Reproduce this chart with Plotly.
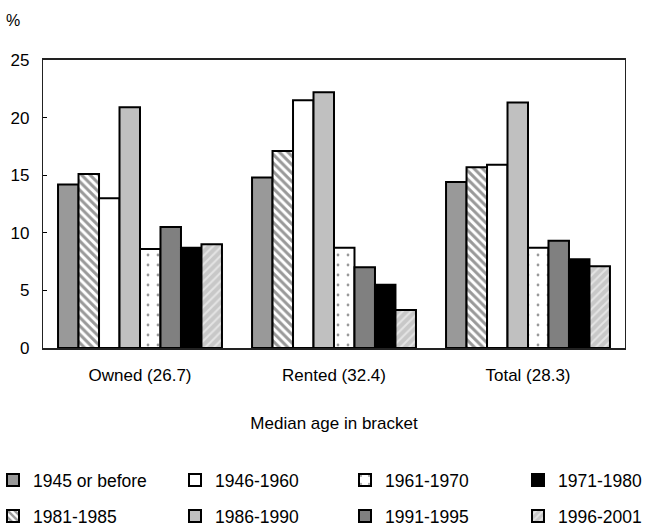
import plotly.graph_objects as go

categories = ["Owned (26.7)", "Rented (32.4)", "Total (28.3)"]

series_names = ["1945 or before", "1981-1985", "1946-1960", "1986-1990",
                "1961-1970", "1991-1995", "1971-1980", "1996-2001"]
v_1945 = [14.2, 14.8, 14.4]
v_1981 = [15.1, 17.1, 15.7]
v_1946 = [13.0, 21.5, 15.9]
v_1986 = [20.9, 22.2, 21.3]
v_1961 = [8.6, 8.7, 8.7]
v_1991 = [10.5, 7.0, 9.3]
v_1971 = [8.7, 5.5, 7.7]
v_1996 = [9.0, 3.3, 7.1]
values = [v_1945, v_1981, v_1946, v_1986, v_1961, v_1991, v_1971, v_1996]

styles = [
    dict(color="#999999"),
    dict(color="white", pattern=dict(shape="\\", fgcolor="#333333", bgcolor="white", size=6, solidity=0.5)),
    dict(color="white"),
    dict(color="#c0c0c0"),
    dict(color="white", pattern=dict(shape=".", fgcolor="#333333", bgcolor="white", size=10, solidity=0.06)),
    dict(color="#808080"),
    dict(color="black"),
    dict(color="#c8c8c8", pattern=dict(shape="/", fgcolor="white", bgcolor="#c8c8c8", size=6, solidity=0.35)),
]

# legend grid: (column, row) of each series (columns of 4, rows of 2)
legend_cells = [(0, 0), (0, 1), (1, 0), (1, 1), (2, 0), (2, 1), (3, 0), (3, 1)]
col_left_px = [-7, 175, 345, 518]
row_center_px = [480, 516]

font = "Liberation Sans, Arial, sans-serif"
L, T, PW, PH = 43, 60, 582, 288

fig = go.Figure()
legends = {}
for i, (name, vals, st, cell) in enumerate(zip(series_names, values, styles, legend_cells)):
    marker = dict(color=st["color"], line=dict(color="black", width=2))
    if "pattern" in st:
        marker["pattern"] = st["pattern"]
    key = "legend" if i == 0 else f"legend{i + 1}"
    fig.add_trace(go.Bar(x=categories, y=vals, name=name, marker=marker, legend=key))
    c, r = cell
    legends[key] = dict(
        x=(col_left_px[c] - L) / PW, y=-(row_center_px[r] - (T + PH)) / PH,
        xanchor="left", yanchor="middle", orientation="h",
        font=dict(size=17.5, family=font, color="black"),
        bgcolor="rgba(0,0,0,0)", itemwidth=30,
    )

fig.update_layout(
    width=645, height=529,
    margin=dict(l=L, r=645 - L - PW, t=T, b=529 - T - PH, autoexpand=False),
    paper_bgcolor="white", plot_bgcolor="white",
    font=dict(family=font, size=17, color="black"),
    barmode="group", bargap=0.155, bargroupgap=0,
    showlegend=True,
    xaxis=dict(showline=True, linecolor="#222222", linewidth=1.5, mirror=True,
               ticks="", tickfont=dict(size=17), ticklabelstandoff=11,
               title=dict(text="Median age in bracket", font=dict(size=17), standoff=33)),
    yaxis=dict(range=[0, 25], dtick=5, showgrid=False, zeroline=False,
               showline=True, linecolor="#222222", linewidth=1.2, mirror=True,
               ticks="inside", ticklen=4, tickcolor="black",
               tickfont=dict(size=17), ticklabelstandoff=9),
    annotations=[dict(text="%", x=(13 - L) / PW, y=(T + PH - 20) / PH, xref="paper", yref="paper",
                      showarrow=False, font=dict(size=16), xanchor="center", yanchor="middle")],
    **legends,
)

fig.write_html("out.html", config={"displayModeBar": False},
               post_script="document.body.style.margin='0';document.body.style.overflow='hidden';")
